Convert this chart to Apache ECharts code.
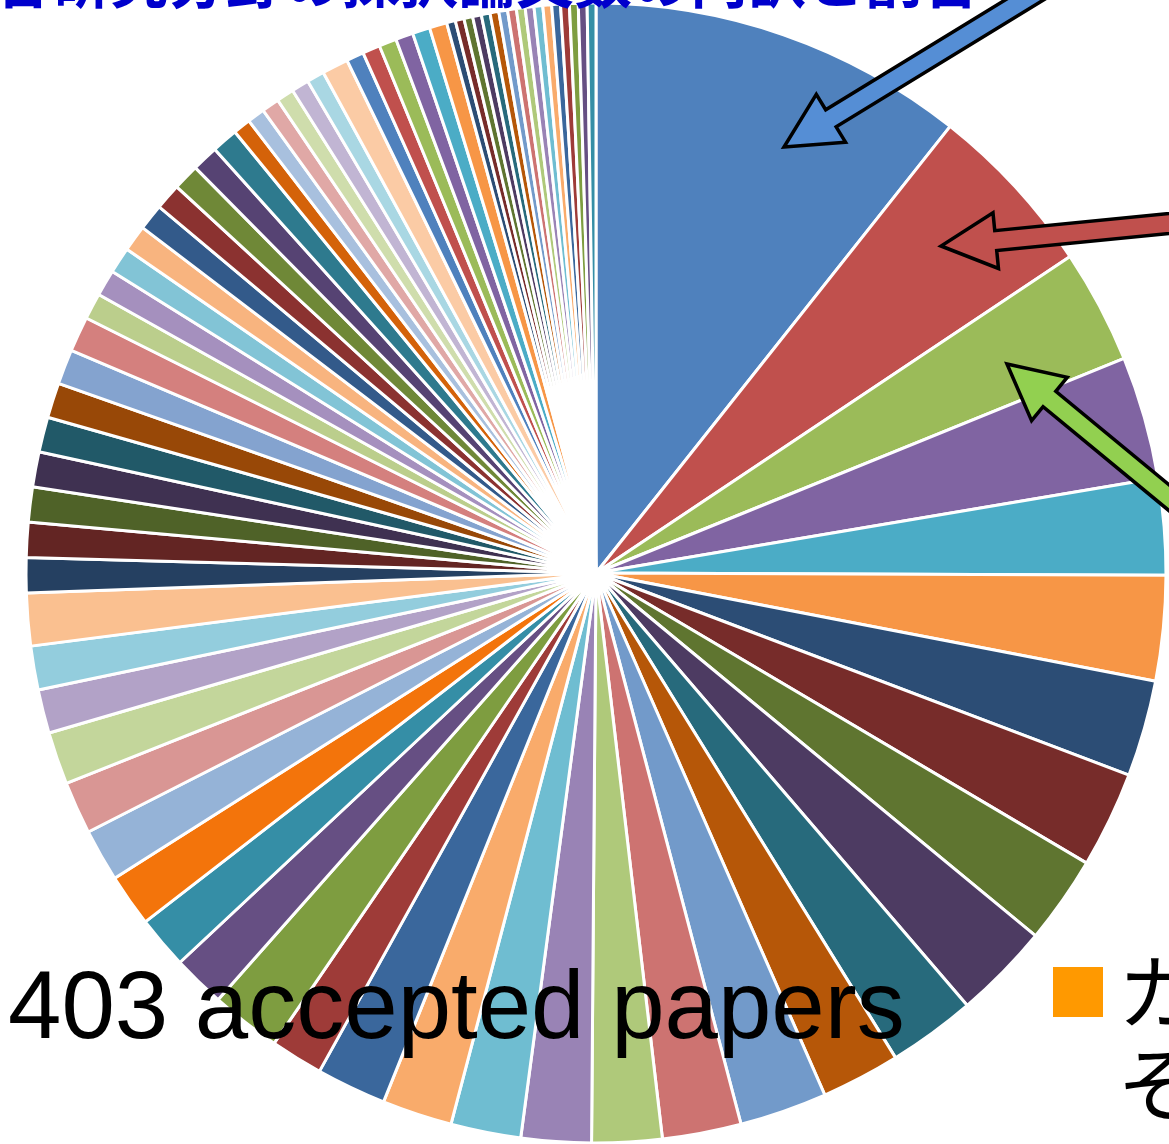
<!DOCTYPE html>
<html>
<head>
<meta charset="utf-8">
<script src="https://cdn.jsdelivr.net/npm/echarts@6/dist/echarts.min.js"></script>
<style>
html,body{margin:0;padding:0;background:#ffffff;}
#chart{width:1169px;height:1144px;}
</style>
</head>
<body>
<div id="chart"></div>
<script>
// ---- data ----
const categories = [
  'C01','C02','C03','C04','C05','C06','C07','C08','C09','C10',
  'C11','C12','C13','C14','C15','C16','C17','C18','C19','C20',
  'C21','C22','C23','C24','C25','C26','C27','C28','C29','C30',
  'C31','C32','C33','C34','C35','C36','C37','C38','C39','C40',
  'C41','C42','C43','C44','C45','C46','C47','C48','C49','C50',
  'C51','C52','C53','C54','C55','C56','C57','C58','C59','C60',
  'C61','C62','C63','C64','C65','C66','C67','C68','C69','C70',
  'C71','C72','C73','C74','C75','C76','C77'
];
const paperCounts = [
  43, 20, 13, 14, 11, 12,
  11, 11, 10, 11, 10, 9,
  10, 9, 8, 8, 8, 8,
  8, 6, 8, 6, 6, 6,
  6, 6, 6, 5, 5, 6,
  4, 4, 4, 4, 4, 4,
  4, 4, 3, 3, 3, 3,
  3, 3, 3, 3, 3, 2,
  2, 2, 2, 2, 2, 3,
  2, 2, 2, 2, 2, 2,
  1, 1, 1, 1, 1, 1,
  1, 1, 1, 1, 1, 1,
  1, 1, 1, 1, 1
];
const totalLabel = '403 accepted papers';
const legendLines = ['カテゴリ', 'その他'];
const titleText = '各研究分野の採択論文数の内訳と割合';

// ---- styles ----
const palette = [
  '#4F81BD','#C0504D','#9BBB59','#8064A2','#4BACC6','#F79646',
  '#2C4D75','#772C2A','#5F7530','#4D3B62','#276A7C','#B65708',
  '#729ACA','#CD7371','#AFC97A','#9983B5','#6FBDD1','#F9AB6B',
  '#3A679C','#9E3B38','#7E9D40','#664F83','#358EA6','#F3740B',
  '#95B3D7','#D99694','#C3D69B','#B2A2C7','#93CDDD','#FAC090',
  '#254061','#632523','#4F6228','#3F3151','#215968','#984807',
  '#84A3CF','#D4807E','#BBCE8C','#A590BE','#82C4D6','#F8B47F',
  '#335A8A','#8B3230','#6F8837','#564373','#2E7A8E','#D46209',
  '#A8C0DE','#E0A8A6','#CFDDAC','#C1B5D3','#A9D7E3','#FBCBA5',
  '#4F81BD','#C0504D','#9BBB59','#8064A2','#4BACC6','#F79646',
  '#2C4D75','#772C2A','#5F7530','#4D3B62','#276A7C','#B65708',
  '#729ACA','#CD7371','#AFC97A','#9983B5','#6FBDD1','#F9AB6B',
  '#3A679C','#9E3B38','#7E9D40','#664F83','#358EA6'
];

function arrow(tip, dir, fill) {
  const len = Math.hypot(dir[0], dir[1]);
  const ux = dir[0] / len, uy = dir[1] / len;
  const nx = -uy, ny = ux;
  const headL = 55, headW = 56, shaftW = 20, tailL = 340;
  const bx = tip[0] + ux * headL, by = tip[1] + uy * headL;
  const tx = tip[0] + ux * tailL, ty = tip[1] + uy * tailL;
  const pts = [
    tip,
    [bx + nx * headW / 2, by + ny * headW / 2],
    [bx + nx * shaftW / 2, by + ny * shaftW / 2],
    [tx + nx * shaftW / 2, ty + ny * shaftW / 2],
    [tx - nx * shaftW / 2, ty - ny * shaftW / 2],
    [bx - nx * shaftW / 2, by - ny * shaftW / 2],
    [bx - nx * headW / 2, by - ny * headW / 2]
  ];
  return {
    type: 'polygon', z: 120,
    shape: { points: pts },
    style: { fill: fill, stroke: '#000', lineWidth: 3.5, lineJoin: 'miter' }
  };
}

const chart = echarts.init(document.getElementById('chart'), null, { renderer: 'canvas' });
chart.setOption({
  animation: false,
  backgroundColor: '#ffffff',
  color: palette,
  series: [{
    type: 'pie',
    center: [596, 573],
    radius: [0, 570],
    startAngle: 90,
    clockwise: true,
    silent: true,
    avoidLabelOverlap: false,
    label: { show: false },
    labelLine: { show: false },
    emphasis: { disabled: true },
    itemStyle: { borderColor: '#ffffff', borderWidth: 3 },
    data: categories.map((c, i) => ({ name: c, value: paperCounts[i] }))
  }],
  graphic: [
    {
      type: 'text', z: 110, x: -6, y: 10,
      style: {
        text: titleText, fill: '#0000CC',
        font: 'bold 58px "Noto Sans CJK JP"',
        textVerticalAlign: 'bottom', textAlign: 'left'
      }
    },
    arrow([784, 147], [0.85, -0.52], '#558ED5'),
    arrow([941, 246], [0.995, -0.098], '#C0504D'),
    arrow([1007, 364], [0.772, 0.637], '#92D050'),
    {
      type: 'text', z: 130, x: 8, y: 1012,
      style: {
        text: totalLabel, fill: '#000',
        font: '96px "Liberation Sans", Arial, sans-serif',
        textVerticalAlign: 'middle', textAlign: 'left'
      }
    },
    {
      type: 'rect', z: 130,
      shape: { x: 1053, y: 967, width: 50, height: 50 },
      style: { fill: '#FF9900' }
    },
    {
      type: 'text', z: 130, x: 1117, y: 992,
      style: {
        text: legendLines[0], fill: '#000',
        font: '82px "Noto Sans CJK JP"',
        textVerticalAlign: 'middle', textAlign: 'left'
      }
    },
    {
      type: 'text', z: 130, x: 1117, y: 1084,
      style: {
        text: legendLines[1], fill: '#000',
        font: '82px "Noto Sans CJK JP"',
        textVerticalAlign: 'middle', textAlign: 'left'
      }
    }
  ]
});
</script>
</body>
</html>
